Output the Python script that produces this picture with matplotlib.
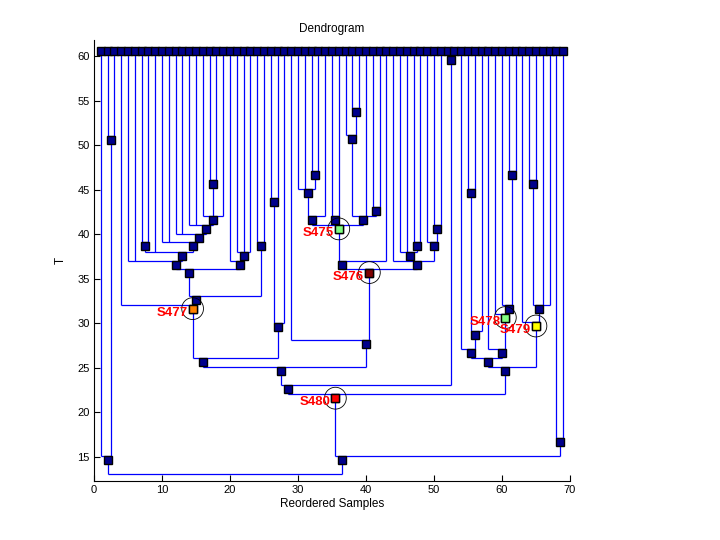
import matplotlib
matplotlib.use("Agg")
import matplotlib.pyplot as plt
from matplotlib.patches import Ellipse
import numpy as np

plt.rcParams['font.family'] = ['Liberation Sans', 'DejaVu Sans']

# ---------------- data ----------------
n_leaves = 69
leaf_T = 60.6

node_names = ['n23', 'n13', 'n1718', 'n1619', 'n1419', 'n1219', 'n1019', 'n78', 'n719', 'n519',
              'n2123', 'n2023', 'n523', 'n2425', 'n525', 'n425', 'n2627', 'n2628', 'n428',
              'n3233', 'n3033', 'n3034', 'n3536', 'n3839', 'n3739', 'n4142', 'n3742', 'n3042',
              'n3043', 'n4748', 'n4548', 'n5051', 'n4951', 'n4451', 'n3051', 'n2951', 'n451',
              'n5253', 'n453', 'n5556', 'n5557', 'n5457', 'n6162', 'n6062', 'n5962', 'n5862',
              'n5462', 'n6465', 'n6467', 'n6367', 'n5467', 'n467', 'n6869', 'n469', 'root']

node_children = ['L2 L3', 'L1 n23', 'L17 L18', 'L16 n1718 L19', 'L14 L15 n1619', 'L12 L13 n1419',
                 'L10 L11 n1219', 'L7 L8', 'n78 L9 n1019', 'L5 L6 n719',
                 'L21 L22 L23', 'L20 n2123', 'n519 n2023', 'L24 L25', 'n523 n2425', 'L4 n525',
                 'L26 L27', 'n2627 L28', 'n425 n2628',
                 'L32 L33', 'L30 L31 n3233', 'n3033 L34', 'L35 L36', 'L38 L39', 'L37 n3839',
                 'L41 L42', 'n3739 L40 n4142', 'n3034 n3536 n3742',
                 'n3042 L43', 'L47 L48', 'L45 L46 n4748', 'L50 L51', 'L49 n5051',
                 'L44 n4548 n4951', 'n3043 n4451', 'L29 n3051', 'n428 n2951',
                 'L52 L53', 'n451 n5253', 'L55 L56', 'n5556 L57', 'L54 n5557', 'L61 L62',
                 'L60 n6162', 'L59 n6062', 'L58 n5962',
                 'n5457 n5862', 'L64 L65', 'n6465 L66 L67', 'L63 n6467', 'n5462 n6367',
                 'n453 n5467', 'L68 L69', 'n467 n6869', 'n13 n469']

node_T = [50.6, 14.7, 45.6, 41.6, 40.6, 39.6, 38.65, 38.65, 37.6, 36.6,
          37.6, 36.6, 35.7, 38.7, 32.6, 31.65, 43.65, 29.6, 25.66,
          46.6, 44.6, 41.6, 41.6, 53.7, 50.66, 42.65, 41.6, 40.6,
          36.6, 38.65, 37.6, 40.6, 38.65, 36.6, 35.7, 27.65, 24.65,
          59.55, 22.6, 44.66, 28.66, 26.67, 46.6, 31.65, 30.65, 26.67,
          25.66, 45.6, 31.65, 29.7, 24.65, 21.6, 16.7, 14.66, 12.65]

hl_labels = ['S475', 'S476', 'S477', 'S478', 'S479', 'S480']
hl_nodes = ['n3042', 'n3051', 'n425', 'n5962', 'n6367', 'n467']
hl_colors = ['#80ff80', '#800000', '#ff8000', '#80ff80', '#ffff00', '#ff0000']

x_ticks = [0, 10, 20, 30, 40, 50, 60, 70]
y_ticks = [15, 20, 25, 30, 35, 40, 45, 50, 55, 60]

# ---------------- layout ----------------
T = {f'L{i}': leaf_T for i in range(1, n_leaves + 1)}
children = {}
for name, ch, t in zip(node_names, node_children, node_T):
    T[name] = t
    children[name] = ch.split()

def leaves_of(n):
    if n.startswith('L'):
        return [int(n[1:])]
    out = []
    for c in children[n]:
        out += leaves_of(c)
    return out

X = {n: float(np.mean(leaves_of(n))) for n in T}

# ---------------- plot ----------------
fig = plt.figure(figsize=(7.2, 5.4), dpi=100)
ax = fig.add_axes([0.1306, 0.1098, 0.661, 0.8162])

line_kw = dict(color='#0000ff', lw=0.9, zorder=1, solid_capstyle='butt')
off = 0.45
for p in node_names:
    h = T[p] + off
    xs = [X[c] for c in children[p]]
    ax.plot([min(xs), max(xs)], [h, h], **line_kw)
    for c in children[p]:
        ax.plot([X[c], X[c]], [h, T[c]], **line_kw)

sq = [n for n in T if n != 'root']
ax.plot([X[n] for n in sq], [T[n] for n in sq], linestyle='none', marker='s', ms=5.6,
        mfc='#00008c', mec='black', mew=1.0, zorder=3)

for lab, n, col in zip(hl_labels, hl_nodes, hl_colors):
    ax.plot([X[n]], [T[n]], linestyle='none', marker='s', ms=5.6, mfc=col, mec='black',
            mew=1.0, zorder=4)
    ax.add_patch(Ellipse((X[n], T[n]), width=3.2, height=2.45, fill=False, ec='black',
                         lw=0.6, zorder=5))
    ax.text(X[n] - 0.75, T[n] - 0.45, lab, color='red', fontweight='bold', fontsize=9.5,
            ha='right', va='center', zorder=6)

ax.set_xlim(0, 70)
ax.set_ylim(12.34, 61.8)
ax.set_xticks(x_ticks)
ax.set_yticks(y_ticks)
ax.tick_params(direction='in', length=4, width=0.8, labelsize=8, pad=3)
for s in ['top', 'right']:
    ax.spines[s].set_visible(False)
for s in ['left', 'bottom']:
    ax.spines[s].set_linewidth(0.8)
ax.set_title('Dendrogram', fontsize=8.5, pad=6)
ax.set_xlabel('Reordered Samples', fontsize=8.5, labelpad=2)
ax.set_ylabel('T', fontsize=8.5, labelpad=8)

fig.savefig('out.png', dpi=100)
